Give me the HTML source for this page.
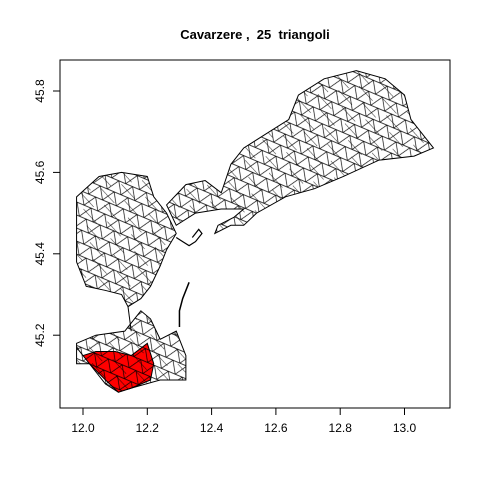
<!DOCTYPE html>
<html><head><meta charset="utf-8"><style>body{margin:0;background:#fff}svg{display:block}</style></head>
<body>
<svg width="480" height="480" xmlns="http://www.w3.org/2000/svg" font-family="Liberation Sans, sans-serif">
<defs>
<pattern id="mesh" width="15" height="12" patternUnits="userSpaceOnUse" patternTransform="rotate(23)">
<path d="M0 0H15M0 12H15M0 0L7.5 12L15 0M0 12L-7.5 0M15 12L22.5 0" stroke="#000" stroke-width="0.7" fill="none"/>
</pattern>
<pattern id="mesh2" width="21" height="17" patternUnits="userSpaceOnUse" patternTransform="rotate(-11)">
<path d="M0 0L10.5 17" stroke="#000" stroke-width="0.5" fill="none"/>
</pattern>
</defs>
<rect x="60" y="60" width="390" height="348" fill="none" stroke="#000"/>
<text x="255" y="39" text-anchor="middle" font-weight="bold" font-size="13" style="white-space:pre">Cavarzere ,  25  triangoli</text>
<g id="xaxis"></g>
<g id="yaxis"></g>
<g id="regions"></g>
</svg>
<script>
const xTicks=[12.0,12.2,12.4,12.6,12.8,13.0];
const yTicks=[45.2,45.4,45.6,45.8];
const westLon=[11.98,12.05,12.12,12.20,12.22,12.26,12.29,12.26,12.24,12.21,12.18,12.14,12.12,12.07,12.01,11.98,11.98];
const westLat=[45.54,45.59,45.60,45.59,45.54,45.50,45.45,45.41,45.37,45.32,45.29,45.27,45.30,45.31,45.32,45.38,45.46];
const eastLon=[12.26,12.32,12.38,12.43,12.46,12.50,12.58,12.64,12.67,12.75,12.85,12.94,13.00,13.02,13.09,13.03,12.92,12.81,12.72,12.63,12.54,12.50,12.46,12.41,12.42,12.47,12.50,12.43,12.35,12.29];
const eastLat=[45.52,45.57,45.58,45.55,45.62,45.66,45.70,45.73,45.79,45.83,45.85,45.83,45.79,45.73,45.66,45.64,45.63,45.59,45.56,45.54,45.50,45.47,45.47,45.45,45.47,45.49,45.51,45.51,45.50,45.47];
const southLon=[11.98,12.04,12.13,12.18,12.21,12.24,12.29,12.32,12.32,12.24,12.15,12.11,12.07,12.02,11.98];
const southLat=[45.18,45.20,45.21,45.26,45.24,45.19,45.21,45.15,45.09,45.09,45.07,45.06,45.08,45.13,45.13];
const redLon=[11.98,12.00,12.04,12.10,12.15,12.20,12.22,12.21,12.15,12.11,12.07,12.02];
const redLat=[45.17,45.15,45.16,45.16,45.15,45.18,45.13,45.09,45.07,45.06,45.09,45.13];
const spitLon=[12.33,12.31,12.30,12.30];
const spitLat=[45.33,45.29,45.26,45.22];
const lagoonLon=[12.29,12.31,12.33,12.35,12.37,12.36,12.34];
const lagoonLat=[45.44,45.43,45.42,45.43,45.45,45.46,45.44];
const X=v=>83+(v-12)*321.5, Y=v=>91+(45.8-v)*407;
const NS='http://www.w3.org/2000/svg';
function mk(t,a,p){const e=document.createElementNS(NS,t);for(const k in a)e.setAttribute(k,a[k]);p.appendChild(e);return e;}
const xa=document.getElementById('xaxis'),ya=document.getElementById('yaxis'),rg=document.getElementById('regions');
mk('line',{x1:X(xTicks[0]),x2:X(xTicks[xTicks.length-1]),y1:408,y2:408,stroke:'#000'},xa);
xTicks.forEach(t=>{mk('line',{x1:X(t),x2:X(t),y1:408,y2:415,stroke:'#000'},xa);
const tx=mk('text',{x:X(t),y:432,'text-anchor':'middle','font-size':12},xa);tx.textContent=t.toFixed(1);

});
mk('line',{x1:60,x2:60,y1:Y(yTicks[0]),y2:Y(yTicks[yTicks.length-1]),stroke:'#000'},ya);
yTicks.forEach(t=>{mk('line',{x1:53,x2:60,y1:Y(t),y2:Y(t),stroke:'#000'},ya);
const tx=mk('text',{x:44,y:Y(t),'text-anchor':'middle','font-size':12,transform:`rotate(-90 44 ${Y(t)})`},ya);tx.textContent=t.toFixed(1);

});
function poly(lo,la,fill,name){const pts=lo.map((v,i)=>X(v)+','+Y(la[i])).join(' ');
if(fill)mk('polygon',{points:pts,fill:fill},rg);
mk('polygon',{points:pts,fill:'url(#mesh2)'},rg);
const p=mk('polygon',{points:pts,fill:'url(#mesh)',stroke:'#000','stroke-width':1},rg);

}
poly(westLon,westLat,null,'west-mesh');
poly(eastLon,eastLat,null,'east-mesh');
poly(southLon,southLat,null,'south-mesh');
poly(redLon,redLat,'#f00','selected-triangles');
const sp=mk('polyline',{points:spitLon.map((v,i)=>X(v)+','+Y(spitLat[i])).join(' '),fill:'none',stroke:'#000','stroke-width':1.5},rg);


const lg=mk('polyline',{points:lagoonLon.map((v,i)=>X(v)+','+Y(lagoonLat[i])).join(' '),fill:'none',stroke:'#000','stroke-width':1.2},rg);


const cn=mk('line',{x1:X(12.14),y1:Y(45.27),x2:X(12.15),y2:Y(45.21),stroke:'#000'},rg);


</script>
</body></html>
